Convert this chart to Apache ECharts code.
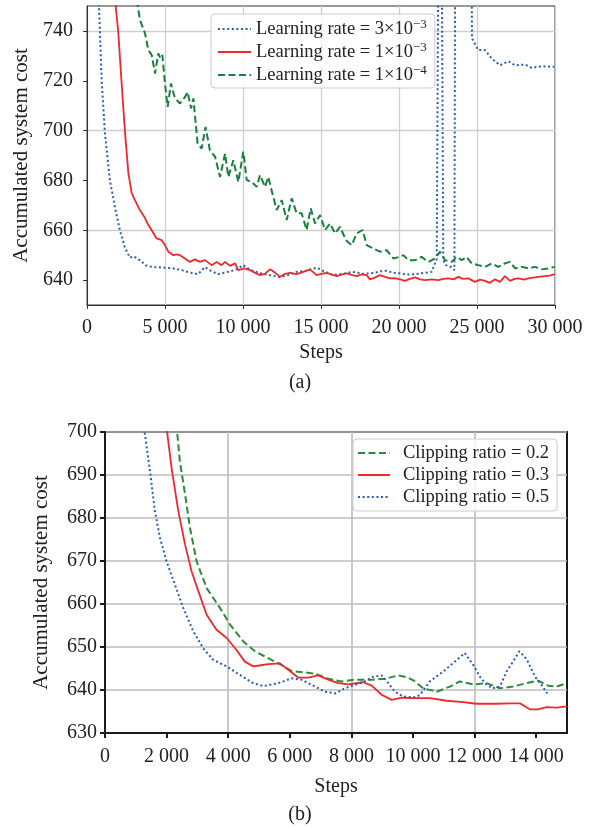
<!DOCTYPE html>
<html><head><meta charset="utf-8">
<script src="https://cdn.jsdelivr.net/npm/echarts@6/dist/echarts.min.js"></script>
<style>html,body{margin:0;padding:0;background:#fff}#c{width:595px;height:827px}</style>
</head><body><div id="c"></div>
<script>
const FONT = '"Liberation Serif","Times New Roman",serif';

// ---------- (a) Learning rate comparison: [steps, cost] ----------
const lrName3e3 = 'Learning rate = 3×10−3';
const lrName1e3 = 'Learning rate = 1×10−3';
const lrName1e4 = 'Learning rate = 1×10−4';
const lr3e3 = [[700,762],[770,750],[833,739],[940,720],[1150,699],[1470,680],[1800,669],[2110,660],[2430,653],[2750,649],[3000,649.5],[3270,648.4],[3500,647.5],[3720,646],[4000,645.5],[4360,645.2],[4900,645],[5430,644.8],[6070,644],[6600,643],[7120,642.4],[7560,645.2],[8000,643.5],[8400,642.4],[8850,643],[9270,643.7],[9650,644.5],[10000,646],[10500,644],[11090,642.8],[11700,642],[12370,641.2],[12900,642],[13440,643.3],[14100,643.8],[14720,645],[15200,643.5],[15770,642],[16400,642.5],[17050,643.3],[17700,642.5],[18330,642.8],[18800,643.5],[19210,643.7],[19600,643],[20060,642.7],[20500,642.2],[21030,642.4],[21550,642.8],[22090,643.3],[22420,648.5],[22560,820],[22700,820],[22840,648],[23000,646],[23270,645.5],[23550,644],[23620,820],[24600,820],[24680,737],[25080,732.3],[25510,732.3],[25940,729],[26470,726.2],[27010,727.8],[27440,726.2],[28080,726.5],[28500,725.2],[29150,725.8],[29950,725.6]];
const lr1e3 = [[1700,760],[1840,750],[2010,739],[2220,719],[2440,699],[2650,683],[2860,675],[3080,672],[3400,668],[3720,664.9],[3900,662.5],[4150,660],[4460,656.7],[4790,656],[5000,654],[5210,651.4],[5530,650],[5750,650.3],[5960,650],[6280,648.7],[6600,647.3],[6920,648.3],[7240,647.3],[7560,648],[7990,646],[8310,647.3],[8630,646],[8850,647.3],[9170,645.7],[9490,646.7],[9700,644],[10080,644.7],[10450,644],[10750,643],[11090,642],[11400,642.5],[11730,644.3],[12050,643],[12370,641.3],[12700,642.5],[13010,642.9],[13440,642.4],[13870,643.3],[14290,644.3],[14720,642],[15000,642.5],[15360,642.9],[15700,642.2],[16010,641.6],[16300,642.2],[16650,642.7],[17000,642],[17290,641.6],[17600,642.3],[17930,642],[18140,640.3],[18450,641],[18780,642],[19100,641.3],[19420,640.7],[19700,640.8],[20020,640.4],[20380,639.7],[20700,640.5],[21030,641.1],[21350,640.3],[21670,640],[22100,640.3],[22520,640],[22850,640.5],[23160,640.7],[23500,640.3],[23800,641.3],[24100,640.5],[24440,640.7],[24870,639.3],[25200,640.2],[25510,639.7],[25830,638.9],[26150,640.3],[26470,639.3],[26790,641.6],[27120,639.7],[27400,640.5],[27650,640.7],[28000,640.2],[28290,640.7],[28600,641],[28930,641.3],[29360,641.6],[29650,641.8],[30000,642.4]];
const lr1e4 = [[3050,765],[3250,750],[3400,744.3],[3720,739],[3930,732.3],[4150,730.3],[4360,722.9],[4570,731],[4700,729],[4830,730.3],[5000,718.9],[5170,709.5],[5380,718.9],[5640,712.9],[5960,710.9],[6280,713.5],[6450,715.5],[6670,708.9],[6820,712.9],[7090,694.8],[7350,692.8],[7600,701.5],[7880,692.1],[8210,689.5],[8530,681.4],[8850,690.8],[9060,681.4],[9380,688.1],[9700,679.4],[10020,691.5],[10240,680.1],[10560,679.4],[10880,677.4],[11090,682.1],[11410,677.4],[11620,681.4],[11940,673.4],[12160,668.1],[12480,672.1],[12800,664.1],[13120,672.8],[13440,666.8],[13760,666.8],[14080,660.1],[14340,668.8],[14620,662.7],[14940,666.1],[15260,660.1],[15580,662.7],[15900,658.7],[16220,661.4],[16600,656],[16970,654],[17290,658.7],[17670,660.1],[17930,654],[18350,652.7],[18780,651.4],[19210,652],[19640,648.7],[20020,649.3],[20280,650],[20600,648],[21030,648],[21450,649.3],[21880,647.3],[22310,648.7],[22630,651.4],[22950,648],[23380,647.3],[23700,649.3],[24020,648],[24340,649.3],[24660,646.7],[25080,646],[25510,645.3],[25940,646.7],[26360,645.3],[26790,646.7],[27120,647.3],[27440,644.7],[27880,645.3],[28290,644.7],[28720,645.3],[29150,644.3],[29570,644.7],[30000,645.3]];
const aYTicks = [640,660,680,700,720,740];

// ---------- (b) Clipping ratio comparison: [steps, cost] ----------
const clName02 = 'Clipping ratio = 0.2';
const clName03 = 'Clipping ratio = 0.3';
const clName05 = 'Clipping ratio = 0.5';
const clip02 = [[2300,702],[2350,699.4],[2430,693.2],[2600,685.5],[2760,677.7],[2975,669.9],[3300,663.7],[3730,659.1],[4060,655.2],[4490,651.3],[4870,649],[5300,647.4],[5735,645.8],[6060,644.4],[6490,644.1],[6870,643.7],[7250,642.6],[7680,642],[8110,642.4],[8660,642.4],[9090,642.6],[9520,643.4],[9840,642.9],[10040,642.1],[10330,640.4],[10770,639.6],[11200,640.8],[11520,642],[11960,641.3],[12390,641.6],[12820,640.4],[13250,640.8],[13690,641.6],[14060,642.2],[14390,641],[14660,640.8],[15000,641.6]];
const clip03 = [[1950,702],[2020,699.8],[2160,691.7],[2380,681.6],[2600,673.8],[2810,667.6],[3030,663],[3300,657.5],[3620,654],[3950,652.1],[4270,649.3],[4540,646.6],[4810,645.5],[5010,645.7],[5300,646],[5680,646.2],[5950,644.7],[6270,642.9],[6600,642.9],[6920,643.4],[7250,642.4],[7570,641.6],[7900,641.3],[8380,641.8],[8660,641],[8980,638.9],[9310,637.7],[9630,638.2],[10040,638.1],[10550,638.1],[11090,637.5],[11630,637.2],[12060,636.8],[12710,636.8],[13150,636.9],[13470,636.9],[13790,635.5],[14060,635.5],[14340,636],[14660,635.9],[15000,636.2]];
const clip05 = [[1200,703],[1298,699.4],[1460,690.9],[1620,681.6],[1785,675.4],[2000,669.9],[2270,664.5],[2540,659.1],[2870,653.6],[3190,649.7],[3515,647],[3950,645.5],[4380,643.5],[4810,641.6],[5140,640.9],[5630,641.6],[6060,642.7],[6380,642.4],[6820,640.8],[7140,639.6],[7470,639.2],[7790,640.4],[8110,641.2],[8440,642],[8710,643.1],[8980,643.4],[9200,641.6],[9410,639.6],[9680,638.5],[10040,638.3],[10220,638.8],[10550,642],[10980,644.3],[11360,646.6],[11680,648.6],[11960,645.8],[12170,643.1],[12390,641.2],[12600,640.4],[12820,640.8],[13040,644.3],[13250,646.6],[13450,649],[13690,647.2],[13960,643.1],[14170,641.2],[14360,639.2]];
const bXTicks = [0,2000,4000,6000,8000,10000,12000,14000];

const BLUE = '#2b5bb5', RED = '#f0282b', GREEN = '#17803d', GREEN_B = '#2e8a3c';
const TXT = '#222';

function thou(v) {
  if (v === 0) return '0';
  const s = String(v);
  return s.length > 3 ? s.slice(0, -3) + ' ' + s.slice(-3) : s;
}
function legendFmt(name) {
  return name.replace(/10(−\d)$/, '10{sup|$1}');
}

const chart = echarts.init(document.getElementById('c'), null, {renderer: 'canvas'});
const tickFont = {fontFamily: FONT, fontSize: 20, color: TXT};

chart.setOption({
  animation: false,
  backgroundColor: '#fff',
  grid: [
    {left: 87, top: 6, width: 468, height: 299, show: true, borderColor: '#333', borderWidth: 1, backgroundColor: 'transparent'},
    {left: 105, top: 432, width: 462, height: 301, show: true, borderColor: '#1a1a1a', borderWidth: 2, backgroundColor: 'transparent'}
  ],
  xAxis: [
    {gridIndex: 0, type: 'value', min: 0, max: 30000, interval: 5000,
     name: 'Steps', nameLocation: 'middle', nameGap: 38,
     nameTextStyle: {fontFamily: FONT, fontSize: 20, color: TXT},
     axisLine: {lineStyle: {color: '#333', width: 1}},
     axisTick: {show: true, inside: false, length: 4, lineStyle: {color: '#333', width: 1}},
     axisLabel: Object.assign({margin: 13, formatter: thou}, tickFont),
     splitLine: {show: true, lineStyle: {color: '#cfcfcf', width: 1.3}}},
    {gridIndex: 1, type: 'value', min: 0, max: 15000, interval: 1000,
     name: 'Steps', nameLocation: 'middle', nameGap: 44,
     nameTextStyle: {fontFamily: FONT, fontSize: 20, color: TXT},
     axisLine: {lineStyle: {color: '#1a1a1a', width: 2}},
     axisTick: {show: true, inside: false, length: 5, customValues: bXTicks, lineStyle: {color: '#1a1a1a', width: 2}},
     axisLabel: Object.assign({margin: 14, customValues: bXTicks, formatter: v => (v % 2000 === 0 ? thou(v) : '')}, tickFont),
     splitLine: {show: true, lineStyle: {color: ['#bdbdc0', 'rgba(0,0,0,0)'], width: 1.6}}}
  ],
  yAxis: [
    {gridIndex: 0, type: 'value', min: 630, max: 750, interval: 10,
     name: 'Accumulated system cost', nameLocation: 'middle', nameGap: 53,
     nameTextStyle: {fontFamily: FONT, fontSize: 21, color: TXT},
     axisLine: {show: true, lineStyle: {color: '#333', width: 1}},
     axisTick: {show: true, inside: false, length: 4, customValues: aYTicks, lineStyle: {color: '#333', width: 1}},
     axisLabel: Object.assign({margin: 14, customValues: aYTicks, formatter: v => (v % 20 === 0 ? String(v) : '')}, tickFont),
     splitLine: {show: true, lineStyle: {color: ['rgba(0,0,0,0)', '#cfcfcf'], width: 1.3}}},
    {gridIndex: 1, type: 'value', min: 630, max: 700, interval: 10,
     name: 'Accumulated system cost', nameLocation: 'middle', nameGap: 53,
     nameTextStyle: {fontFamily: FONT, fontSize: 21, color: TXT},
     axisLine: {show: true, lineStyle: {color: '#1a1a1a', width: 2}},
     axisTick: {show: true, inside: false, length: 5, lineStyle: {color: '#1a1a1a', width: 2}},
     axisLabel: Object.assign({margin: 8}, tickFont),
     splitLine: {show: true, lineStyle: {color: '#bdbdc0', width: 1.6}}}
  ],
  legend: [
    {data: [lrName3e3, lrName1e3, lrName1e4], orient: 'vertical', left: 211, top: 14,
     padding: [4, 8, 3, 6], itemWidth: 33, itemHeight: 14, itemGap: 2,
     itemStyle: {opacity: 0},
     backgroundColor: 'rgba(255,255,255,0.85)', borderColor: '#cccccc', borderWidth: 1, borderRadius: 4,
     formatter: legendFmt,
     textStyle: {fontFamily: FONT, fontSize: 18.5, color: TXT, lineHeight: 20,
       rich: {sup: {fontFamily: FONT, fontSize: 13, color: TXT, verticalAlign: 'bottom', padding: [0, 0, 8, 0]}}}},
    {data: [clName02, clName03, clName05], orient: 'vertical', left: 353, top: 439,
     padding: [4, 8, 4, 4], itemWidth: 32, itemHeight: 14, itemGap: 2,
     itemStyle: {opacity: 0},
     backgroundColor: 'rgba(255,255,255,0.85)', borderColor: '#cccccc', borderWidth: 1, borderRadius: 4,
     textStyle: {fontFamily: FONT, fontSize: 18.5, color: TXT, lineHeight: 20, padding: [0, 0, 0, 8]}}
  ],
  graphic: [
    {type: 'text', x: 300, y: 383, style: {text: '(a)', font: '20px ' + FONT, fill: TXT, textAlign: 'center', textVerticalAlign: 'middle', align: 'center', verticalAlign: 'middle'}},
    {type: 'text', x: 300, y: 815, style: {text: '(b)', font: '20px ' + FONT, fill: TXT, textAlign: 'center', textVerticalAlign: 'middle', align: 'center', verticalAlign: 'middle'}}
  ],
  series: [
    {name: lrName3e3, type: 'line', xAxisIndex: 0, yAxisIndex: 0, data: lr3e3, symbol: 'none', clip: true,
     lineStyle: {color: BLUE, width: 2, type: [2, 2.6], cap: 'butt'}, itemStyle: {color: BLUE}},
    {name: lrName1e3, type: 'line', xAxisIndex: 0, yAxisIndex: 0, data: lr1e3, symbol: 'none', clip: true,
     lineStyle: {color: RED, width: 1.8}, itemStyle: {color: RED}},
    {name: lrName1e4, type: 'line', xAxisIndex: 0, yAxisIndex: 0, data: lr1e4, symbol: 'none', clip: true,
     lineStyle: {color: GREEN, width: 2, type: [7, 3.5]}, itemStyle: {color: GREEN}},
    {name: clName02, type: 'line', xAxisIndex: 1, yAxisIndex: 1, data: clip02, symbol: 'none', clip: true,
     lineStyle: {color: GREEN_B, width: 2, type: [7, 3.5]}, itemStyle: {color: GREEN_B}},
    {name: clName03, type: 'line', xAxisIndex: 1, yAxisIndex: 1, data: clip03, symbol: 'none', clip: true,
     lineStyle: {color: RED, width: 1.8}, itemStyle: {color: RED}},
    {name: clName05, type: 'line', xAxisIndex: 1, yAxisIndex: 1, data: clip05, symbol: 'none', clip: true,
     lineStyle: {color: BLUE, width: 2, type: [2, 2.6], cap: 'butt'}, itemStyle: {color: BLUE}}
  ]
});
</script>
</body></html>
